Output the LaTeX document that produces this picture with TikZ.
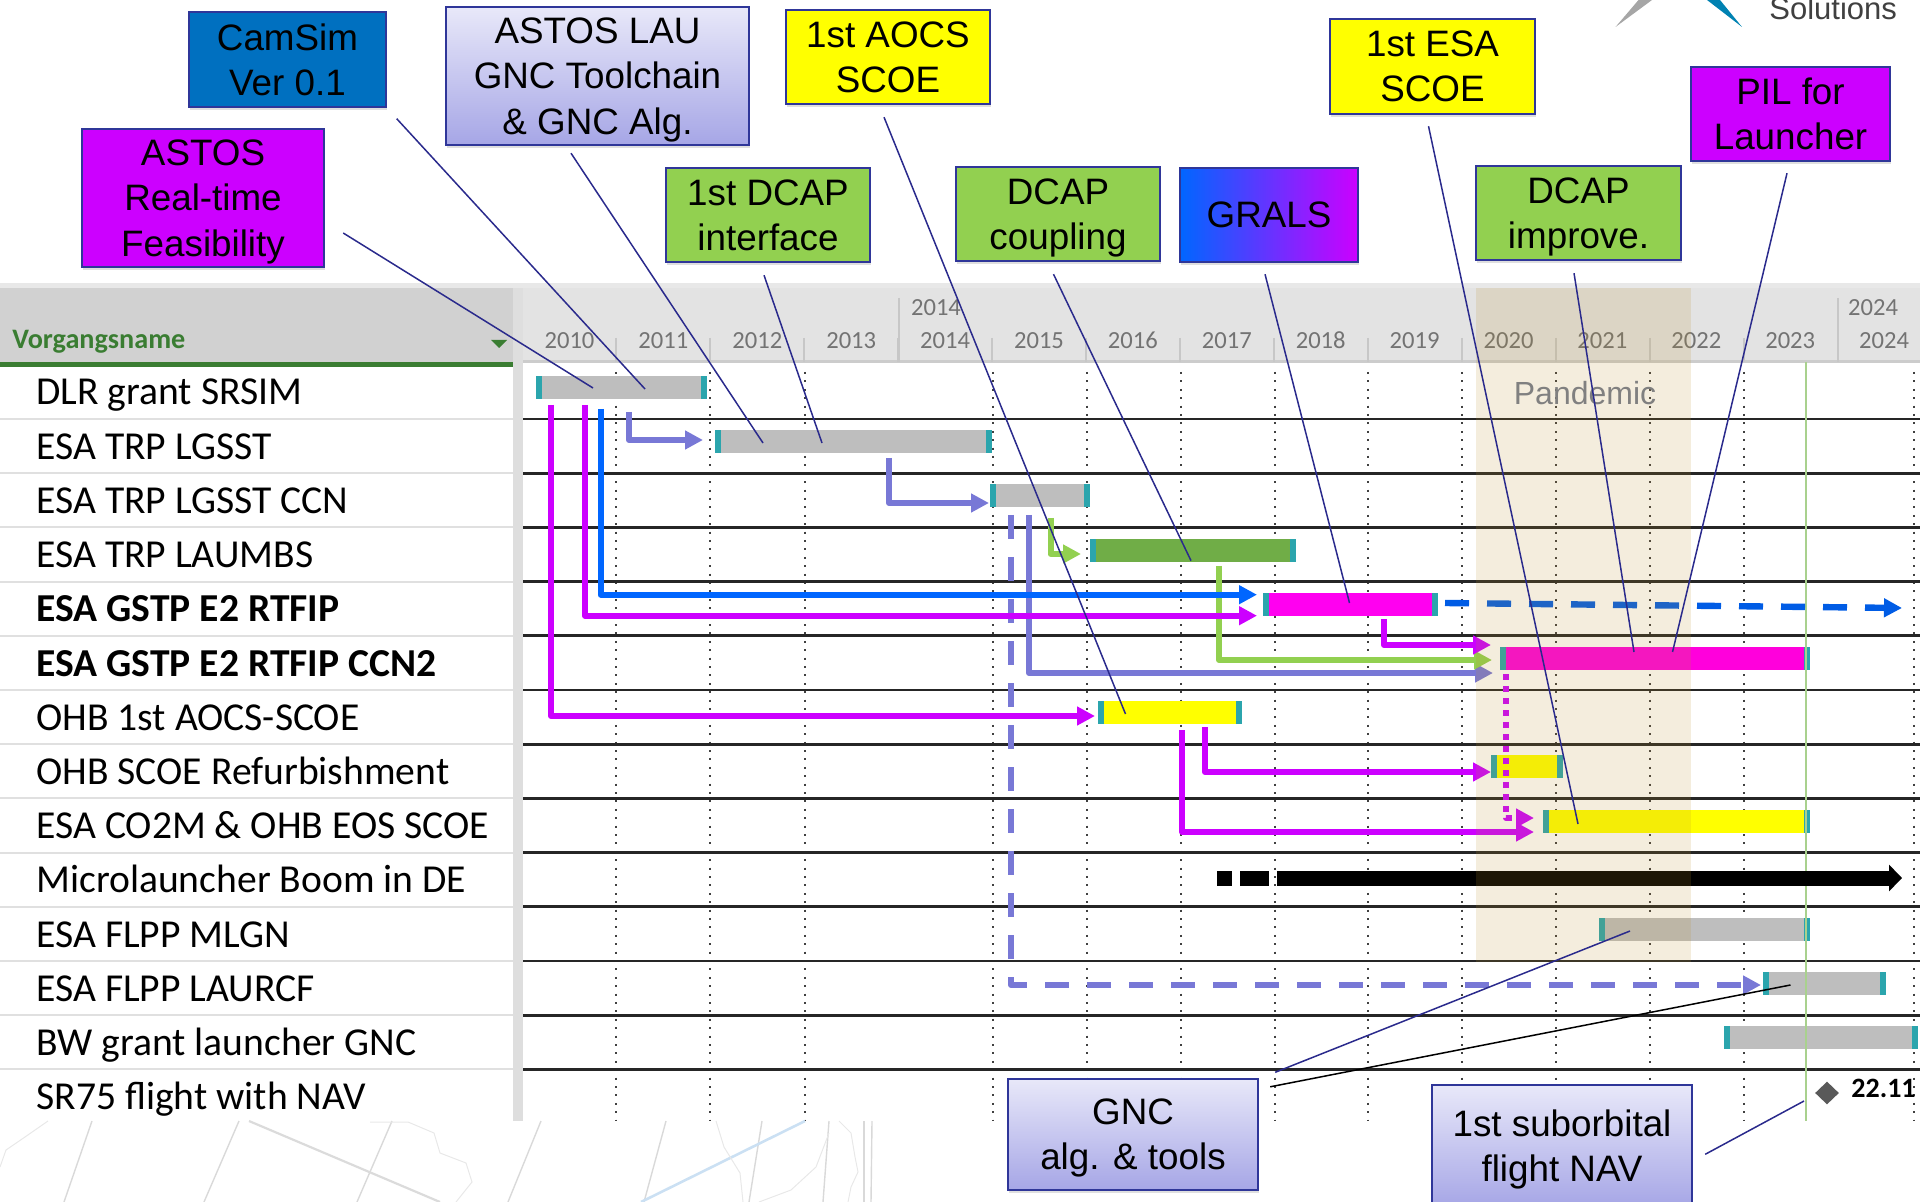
\documentclass[tikz,border=0pt]{standalone}
\usepackage{fontspec}
\setmainfont{Liberation Sans}
\newfontfamily\ganttfont{Carlito}
\usetikzlibrary{arrows.meta,shapes.geometric,shadows}
\definecolor{calloutedge}{HTML}{2F3699}
\definecolor{leaderblue}{HTML}{2A2A8C}
\definecolor{capteal}{HTML}{2BA5AD}
\definecolor{bargray}{HTML}{BEBEBE}
\definecolor{bargreen}{HTML}{70AD47}
\definecolor{barmagenta}{HTML}{FF00F0}
\definecolor{barpink}{HTML}{FF00DC}
\definecolor{baryellow}{HTML}{FFFF00}
\definecolor{boxgreen}{HTML}{92D050}
\definecolor{boxpurple}{HTML}{CC00FF}
\definecolor{boxblue}{HTML}{0070C0}
\definecolor{gradtop}{HTML}{E8E8F9}
\definecolor{gradbottom}{HTML}{A6A6E6}
\definecolor{flowblue}{HTML}{0066FF}
\definecolor{flowperi}{HTML}{7878D6}
\definecolor{headgreen}{HTML}{3A7D32}
\definecolor{pandemictan}{HTML}{BD902A}
\definecolor{todaygreen}{HTML}{A9D18E}
\definecolor{mapblue}{HTML}{CBE0F3}
\tikzset{
  callout/.style 2 args={draw=calloutedge, line width=1.2pt, inner sep=0pt, minimum width=#1, minimum height=#2,
    align=center, text depth=0pt, font=\fontsize{18.4}{22.6}\selectfont,
    drop shadow={shadow xshift=0.5pt, shadow yshift=-1.5pt, opacity=0.25}},
  gradbox/.style={top color=gradtop, bottom color=gradbottom},
  ganttbar/.style={inner sep=0pt, outer sep=0pt, minimum height=11.5pt, anchor=west,
    path picture={
      \fill[capteal] (path picture bounding box.north west) rectangle ++(3pt,-11.5pt);
      \fill[capteal] (path picture bounding box.north east) rectangle ++(-3pt,-11.5pt);}},
  rowlabel/.style={anchor=base west, inner sep=0pt, font=\ganttfont\fontsize{19.8}{23}\selectfont},
  yearlabel/.style={anchor=base, inner sep=0pt, text=black!55, font=\ganttfont\fontsize{12.3}{14}\selectfont},
  flow/.style={line width=3pt, line join=round, -{Triangle[length=9pt,width=9pt]}},
  flowdash/.style={flow, dash pattern=on 12pt off 9pt},
  flowdot/.style={flow, dash pattern=on 3pt off 3pt},
  leader/.style={line width=0.75pt, leaderblue},
  griddot/.style={line width=1pt, black!75, dash pattern=on 1pt off 3.2pt},
  maptrace/.style={line width=0.7pt, black!15},
  mapcoast/.style={line width=0.5pt, black!9},
}
\begin{document}
\begin{tikzpicture}[x=0.5pt,y=-0.5pt]
\useasboundingbox (0,0) rectangle (1920,1202);
\fill[black!9] (0,283) rectangle (1920,288);
\fill[black!18] (0,288) rectangle (513,362);
\fill[black!11] (523,288) rectangle (1920,362);
\fill[black!13] (513,288) rectangle (523,1121);
\fill[black!20] (523,360) rectangle (1920,363);
\fill[headgreen] (0,362) rectangle (513,367);
\fill[headgreen] (491,340) -- (507,340) -- (499,348) -- cycle;
\node[anchor=base west, inner sep=0pt, text=headgreen, font=\ganttfont\bfseries\fontsize{14.1}{16}\selectfont] (taskhead) at (12,349) {Vorgangsname};

\foreach \yr [count=\k from 0] in {2010,...,2024}
  \node[yearlabel] (year\yr) at ({569.5+93.9*\k},349) {\yr};
\node[yearlabel] (deca) at (936,316) {2014};
\node[yearlabel] (decb) at (1873,316) {2024};
\foreach \k in {0,...,14}
  \draw[black!22, line width=0.6pt] ({616+94*\k},338) -- ({616+94*\k},362);
\draw[black!22, line width=0.6pt] (899,298) -- (899,362);
\draw[black!22, line width=0.6pt] (1838,298) -- (1838,362);

\foreach \gx in {616,710,805,993,1087,1181,1275,1368,1462,1556,1650,1744,1914}
  \draw[griddot] (\gx,372) -- (\gx,1121);
\foreach \k in {0,...,12}{
  \draw[black!12, line width=1pt] (0,{419+54.2*\k}) -- (513,{419+54.2*\k});
  \draw[black!85, line width=1.4pt] (523,{419+54.2*\k}) -- (1920,{419+54.2*\k});
}

\foreach \lbl [count=\k from 0] in {DLR grant SRSIM,ESA TRP LGSST,ESA TRP LGSST CCN,ESA TRP LAUMBS,{\bfseries ESA GSTP E2 RTFIP},{\bfseries ESA GSTP E2 RTFIP CCN2},OHB 1st AOCS-SCOE,OHB SCOE Refurbishment,ESA CO2M \& OHB EOS SCOE,Microlauncher Boom in DE,ESA FLPP MLGN,ESA FLPP LAURCF,BW grant launcher GNC,SR75 flight with NAV}
  \node[rowlabel] (row\k) at (36,{405+54.2*\k}) {\lbl};

\foreach \name/\xa/\xb/\row/\col in {srsim/536/707/0/bargray,lgsst/715/992/1/bargray,lgsstccn/990/1090/2/bargray,laumbs/1090/1296/3/bargreen,rtfip/1263/1438/4/barmagenta,ccntwo/1500/1810/5/barpink,aocs/1098/1242/6/baryellow,refurb/1491/1563/7/baryellow,eos/1543/1810/8/baryellow,mlgn/1599/1810/10/bargray,laurcf/1763/1886/11/bargray,bwgrant/1724/1918/12/bargray}
  \node[ganttbar, fill=\col, minimum width={(\xb-\xa)*0.5pt}] (\name) at (\xa,{387.5+54.2*\row}) {};

\coordinate (rtfipend) at (1902,608);
\coordinate (boomstart) at (1217,878);
\coordinate (boomend) at (1902,878);
\coordinate (todaytop) at (1806,362);
\coordinate (todaybot) at (1806,1121);

\draw[todaygreen, line width=0.8pt] (todaytop) -- (todaybot);

\draw[flow,flowperi] ([xshift=46.5pt,yshift=-6.5pt]srsim.south west) |- ([xshift=-6pt,yshift=0.85pt]lgsst.west);
\draw[flow,flowperi] ([xshift=87pt,yshift=-2.4pt]lgsst.south west) |- ([xshift=-0.5pt,yshift=-3.55pt]lgsstccn.west);
\draw[flowdash,flowperi] ([xshift=10.5pt,yshift=-3.8pt]lgsstccn.south west) |- ([xshift=-1pt,yshift=-0.65pt]laurcf.west);
\draw[flow,flowperi] ([xshift=19.5pt,yshift=-3.8pt]lgsstccn.south west) |- ([xshift=-3.5pt,yshift=-7.25pt]ccntwo.west);
\draw[flow,boxgreen] ([xshift=30.25pt,yshift=-5.3pt]lgsstccn.south west) |- ([xshift=-4.5pt,yshift=-1.95pt]laumbs.west);
\draw[flow,boxgreen] ([xshift=64.5pt,yshift=-2.2pt]laumbs.south west) |- ([xshift=-4pt,yshift=-0.75pt]ccntwo.west);
\draw[flow,boxpurple] ([xshift=7.5pt,yshift=-3pt]srsim.south west) |- ([xshift=-1.5pt,yshift=-1.65pt]aocs.west);
\draw[flow,boxpurple] ([xshift=24.5pt,yshift=-3pt]srsim.south west) |- ([xshift=-3pt,yshift=-5.7pt]rtfip.west);
\draw[flow,flowblue] ([xshift=32.25pt,yshift=-5pt]srsim.south west) |- ([xshift=-3pt,yshift=4.8pt]rtfip.west);
\draw[flowdash,flowblue!90!black,line width=3.2pt] ([xshift=3.5pt,yshift=0.65pt]rtfip.east) -- (rtfipend);
\draw[flow,boxpurple] ([xshift=60.5pt,yshift=-1.6pt]rtfip.south west) |- ([xshift=-4.5pt,yshift=6.75pt]ccntwo.west);
\draw[flow,boxpurple] ([xshift=53.5pt,yshift=-1.4pt]aocs.south west) |- ([yshift=-2.55pt]refurb.west);
\draw[flow,boxpurple] ([xshift=42pt,yshift=-2.9pt]aocs.south west) |- ([xshift=-4.5pt,yshift=-5.45pt]eos.west);
\draw[flowdot,boxpurple] ([xshift=3pt,yshift=-2pt]ccntwo.south west) |- ([xshift=-4.5pt,yshift=1.55pt]eos.west);
\draw[line width=7.5pt, dash pattern=on 7.5pt off 4pt on 14.5pt off 4pt on 400pt, -{Triangle[length=6.5pt,width=13pt]}] (boomstart) -- (boomend);

\fill[pandemictan, opacity=0.16] (1476,288) rectangle (1691,962);
\node[text=black!50, inner sep=0pt, font=\fontsize{16}{18}\selectfont] (pandemic) at (1585,393) {Pandemic};

\node[diamond, fill=black!65, inner sep=0pt, minimum width=12pt, minimum height=11.5pt] (milestone) at (1827,1093) {};
\node[anchor=base west, inner sep=0pt, font=\ganttfont\bfseries\fontsize{14}{16}\selectfont] (msdate) at (1851,1097) {22.11};

\draw[maptrace] (92,1121) -- (64,1202);
\draw[maptrace] (239,1121) -- (204,1202);
\draw[maptrace] (392,1121) -- (357,1202);
\draw[maptrace] (541,1121) -- (508,1202);
\draw[maptrace] (666,1121) -- (644,1202);
\draw[maptrace] (762,1121) -- (749,1202);
\draw[maptrace] (829,1121) -- (823,1202);
\draw[maptrace] (864,1121) -- (864,1202);
\draw[maptrace] (872,1121) -- (871,1202);
\draw[black!14, line width=1.1pt] (249,1121) -- (440,1202);
\draw[mapblue, line width=1.3pt] (805,1121) -- (641,1202);
\draw[mapcoast] (48,1121) -- (25,1137) -- (6,1150) -- (0,1167);
\draw[mapcoast] (370,1122) -- (408,1122) -- (434,1133) -- (440,1153) -- (466,1163) -- (472,1182) -- (456,1202);
\draw[mapcoast] (716,1121) -- (724,1147) -- (740,1173) -- (743,1202);
\draw[mapcoast] (839,1121) -- (851,1133) -- (855,1157) -- (858,1172) -- (851,1187) -- (848,1202);
\draw[mapcoast] (829,1133) -- (816,1167) -- (791,1190) -- (759,1202);

\fill[black!35] (1615.5,27) -- (1652,0) -- (1638.5,0) -- cycle;
\fill[flowblue!45!cyan!70!black] (1742,27) -- (1707,0) -- (1720,0) -- cycle;
\node[anchor=base west, inner sep=0pt, text=black!75, font=\fontsize{15.5}{18}\selectfont] (logotext) at (1769,20) {Solutions};

\node[callout={121pt}{69pt}, fill=boxpurple] (astosrt) at (203,198) {ASTOS\\Real-time\\Feasibility};
\node[callout={98.5pt}{47.5pt}, fill=boxblue] (camsim) at (287.5,59.5) {CamSim\\Ver 0.1};
\node[callout={151.5pt}{69pt}, gradbox] (astoslau) at (597.5,76) {ASTOS LAU\\GNC Toolchain\\\& GNC Alg.};
\node[callout={102pt}{47pt}, fill=baryellow] (aocsbox) at (888,57) {1st AOCS\\SCOE};
\node[callout={102pt}{47pt}, fill=boxgreen] (dcapone) at (768,215) {1st DCAP\\interface};
\node[callout={102pt}{47pt}, fill=boxgreen] (dcapcoup) at (1058,214) {DCAP\\coupling};
\node[callout={89pt}{47pt}, left color=flowblue, right color=boxpurple] (grals) at (1269,215) {GRALS};
\node[callout={102.5pt}{47.5pt}, fill=baryellow] (esabox) at (1432.5,66.5) {1st ESA\\SCOE};
\node[callout={102.5pt}{47pt}, fill=boxgreen] (dcapimp) at (1578.5,213) {DCAP\\improve.};
\node[callout={99.5pt}{47pt}, fill=boxpurple] (pil) at (1790.5,114) {PIL for\\Launcher};
\node[callout={125pt}{55.5pt}, gradbox] (gnc) at (1133,1134.5) {GNC\\alg. \& tools};
\node[callout={130pt}{61pt}, gradbox] (suborb) at (1562,1146) {1st suborbital\\flight NAV};

\draw[leader] ([xshift=9pt,yshift=-17.5pt]astosrt.east) -- ([xshift=-14.25pt,yshift=-0.25pt]srsim.center);
\draw[leader] ([xshift=4.75pt,yshift=-5.25pt]camsim.south east) -- ([xshift=11.75pt,yshift=-0.75pt]srsim.center);
\draw[leader] ([xshift=-13.25pt,yshift=-3.5pt]astoslau.south) -- ([xshift=-45.25pt,yshift=-0.65pt]lgsst.center);
\draw[leader] ([xshift=-2pt,yshift=-6pt]dcapone.south) -- ([xshift=-15.75pt,yshift=-0.65pt]lgsst.center);
\draw[leader] ([xshift=-2pt,yshift=-6pt]aocsbox.south) -- ([xshift=-22.25pt,yshift=-0.65pt]aocs.center);
\draw[leader] ([xshift=-2.25pt,yshift=-6pt]dcapcoup.south) -- ([xshift=-1pt,yshift=-5.3pt]laumbs.center);
\draw[leader] ([xshift=-2pt,yshift=-5.5pt]grals.south) -- ([xshift=-0.5pt,yshift=0.65pt]rtfip.center);
\draw[leader] ([xshift=-2pt,yshift=-5.5pt]esabox.south) -- ([xshift=-49.25pt,yshift=-1.45pt]eos.center);
\draw[leader] ([xshift=-2.25pt,yshift=-6pt]dcapimp.south) -- ([xshift=-10.5pt,yshift=3.25pt]ccntwo.center);
\draw[leader] ([xshift=-1.75pt,yshift=-5.5pt]pil.south) -- ([xshift=8.75pt,yshift=3.25pt]ccntwo.center);
\draw[leader] ([xshift=8pt,yshift=2.75pt]gnc.north east) -- ([xshift=-37.25pt,yshift=-0.75pt]mlgn.center);
\draw[line width=0.75pt] ([xshift=5.5pt,yshift=-4.5pt]gnc.north east) -- ([xshift=-17pt,yshift=-0.65pt]laurcf.center);
\draw[leader] ([xshift=6pt,yshift=-35.25pt]suborb.north east) -- ([xshift=-11.5pt,yshift=-4pt]milestone.center);
\end{tikzpicture}
\end{document}
